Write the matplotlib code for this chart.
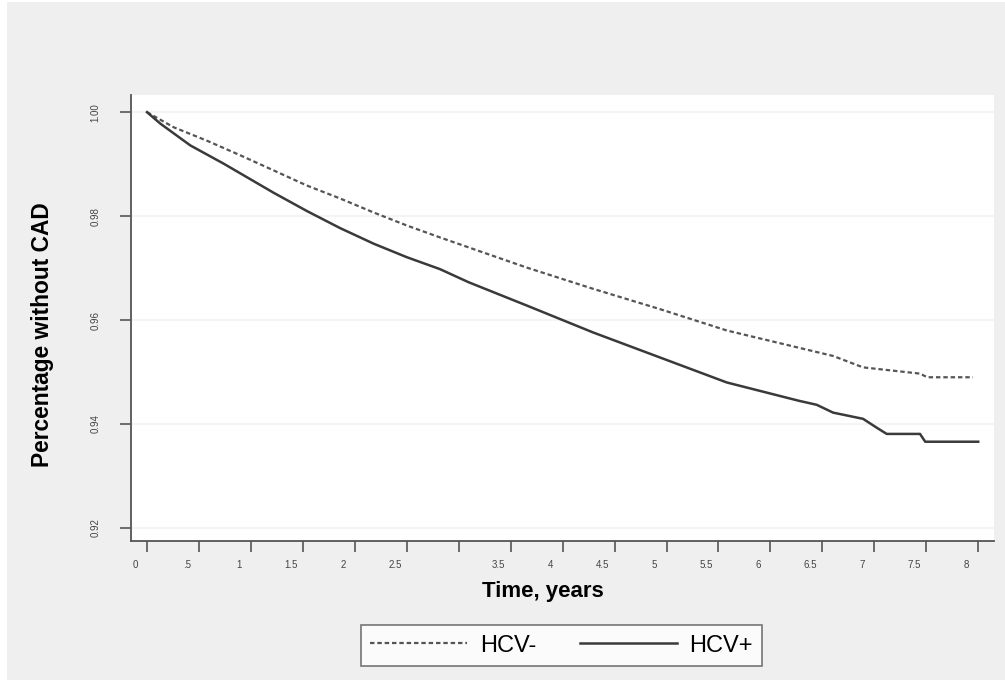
import matplotlib
matplotlib.use("Agg")
import matplotlib.pyplot as plt
import matplotlib.transforms as mtransforms
from matplotlib.patches import Rectangle

plt.rcParams['font.family'] = ['Liberation Sans', 'DejaVu Sans']

# Kaplan-Meier Kurven
hcv_neg_t = [0.0, 0.256, 0.578, 0.898, 1.218, 1.537, 1.858, 2.181, 2.50, 2.82, 3.093, 3.655,
             4.296, 4.938, 5.580, 6.269, 6.603, 6.892, 7.44, 7.51, 7.95]
hcv_neg_s = [1.0000, 0.9971, 0.9945, 0.9917, 0.9888, 0.9859, 0.9834, 0.9807, 0.9782, 0.9759,
             0.9740, 0.9701, 0.9660, 0.9621, 0.9580, 0.9547, 0.9531, 0.9509, 0.9497, 0.9490,
             0.9490]

hcv_pos_t = [0.0, 0.128, 0.417, 0.737, 1.218, 1.537, 1.858, 2.181, 2.50, 2.82, 3.093, 3.655,
             4.296, 4.938, 5.580, 6.269, 6.446, 6.603, 6.892, 7.023, 7.119, 7.44, 7.49, 8.0]
hcv_pos_s = [1.0000, 0.9978, 0.9936, 0.9901, 0.9845, 0.9810, 0.9777, 0.9747, 0.9721, 0.9698,
             0.9673, 0.9628, 0.9576, 0.9528, 0.9480, 0.9445, 0.9437, 0.9422, 0.9410, 0.9393,
             0.9381, 0.9381, 0.9366, 0.9366]

x_ticks = [0, 0.5, 1, 1.5, 2, 2.5, 3, 3.5, 4, 4.5, 5, 5.5, 6, 6.5, 7, 7.5, 8]
x_labels = ["0", ".5", "1", "1.5", "2", "2.5", "", "3.5", "4", "4.5", "5", "5.5",
            "6", "6.5", "7", "7.5", "8"]
y_ticks = [0.92, 0.94, 0.96, 0.98, 1.00]
y_labels = ["0.92", "0.94", "0.96", "0.98", "1.00"]

fig = plt.figure(figsize=(10.05, 6.8), dpi=100, facecolor="white")
# grauer Hintergrund mit schmalem weissen Rand oben/links
fig.patches.append(Rectangle((7 / 1005, 0), 1, 1 - 2 / 680, transform=fig.transFigure,
                             facecolor="#efefef", edgecolor="none", zorder=-10))

ax = fig.add_axes([131 / 1005, 139 / 680, 863 / 1005, 446 / 680])
ax.set_facecolor("white")

ax.plot(hcv_neg_t, hcv_neg_s, color="#555555", linewidth=1.6, linestyle=(0, (2.0, 1.3)),
        label="HCV-")
ax.plot(hcv_pos_t, hcv_pos_s, color="#3a3a3a", linewidth=1.8, label="HCV+")

ax.set_xlim(-0.154, 8.152)
ax.set_ylim(0.9175, 1.0033)

ax.set_xticks(x_ticks)
ax.set_xticklabels(x_labels)
ax.set_yticks(y_ticks)
ax.set_yticklabels(y_labels, rotation=90, va="center")

ax.tick_params(axis="x", length=8, width=1.2, color="#555555", pad=6, labelsize=7,
               labelcolor="#444444")
ax.tick_params(axis="y", length=8, width=1.2, color="#555555", pad=14, labelsize=7,
               labelcolor="#444444")
offset = mtransforms.ScaledTranslation(-12 / 100, 0, fig.dpi_scale_trans)
for lab in ax.get_xticklabels():
    lab.set_transform(lab.get_transform() + offset)

ax.grid(axis="y", color="#f4f4f4", linewidth=1.5)
ax.set_axisbelow(True)

for side in ["top", "right"]:
    ax.spines[side].set_visible(False)
for side in ["left", "bottom"]:
    ax.spines[side].set_color("#555555")
    ax.spines[side].set_linewidth(1.3)

ax.set_xlabel("Time, years", fontsize=16, fontweight="bold", va="center")
ax.xaxis.set_label_coords(0.4774, -0.1143)
ax.set_ylabel("Percentage without CAD", fontsize=16.4, fontweight="bold", va="center")
ax.yaxis.set_label_coords(-0.102, 0.462)

leg = fig.legend(loc="center", bbox_to_anchor=(561.5 / 1005, 34.5 / 680), ncol=2,
                 fontsize=17, frameon=True, fancybox=False, handlelength=4.1,
                 handletextpad=0.55, columnspacing=1.85, borderpad=0.4)
leg.get_frame().set_edgecolor("#555555")
leg.get_frame().set_linewidth(1.2)
leg.get_frame().set_facecolor("white")

fig.savefig("out.png", dpi=100, facecolor=fig.get_facecolor())
